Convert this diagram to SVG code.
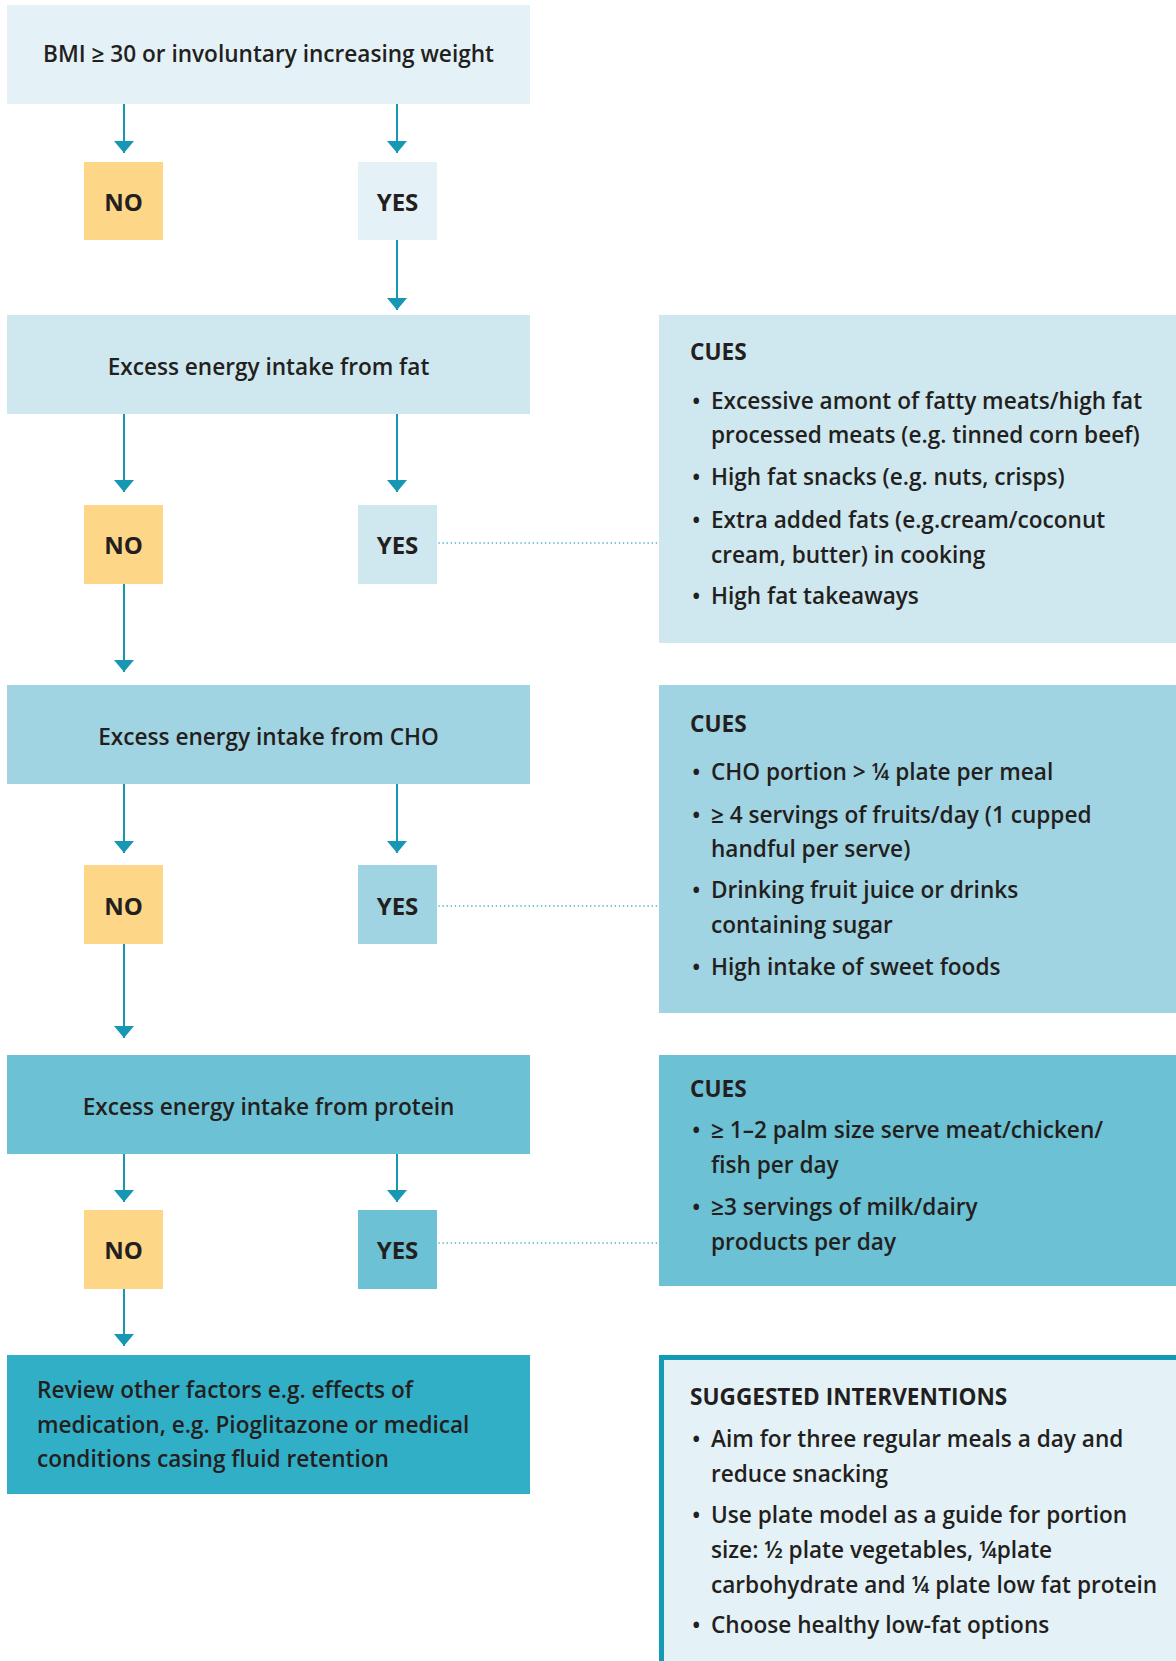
<svg xmlns="http://www.w3.org/2000/svg" width="1176" height="1661" viewBox="0 0 1176 1661">
<style>
  text { font-family: "Open Sans", "Liberation Sans", sans-serif; font-weight: 600; fill: #231f20; font-size: 22.6px; }
  .t { text-anchor: middle; }
  .yn { text-anchor: middle; font-weight: 700; font-size: 24px; }
  .h { font-weight: 700; }
  .c0 { fill: #e4f2f7; }
  .c1 { fill: #cfe8ef; }
  .c2 { fill: #a1d4e2; }
  .c3 { fill: #6cc1d4; }
  .c4 { fill: #31afc7; }
  .no { fill: #fdd688; }
  .arr { stroke: #1797b3; stroke-width: 2; fill: none; marker-end: url(#ah); }
  .dot { stroke: #3aa9c0; stroke-width: 1.6; fill: none; stroke-dasharray: 0.1 4; stroke-linecap: round; }
</style>
<defs>
  <marker id="ah" viewBox="0 0 12 20" refX="12" refY="10" markerWidth="12" markerHeight="20" markerUnits="userSpaceOnUse" orient="auto">
    <path d="M0,0 L12,10 L0,20 Z" fill="#1797b3"/>
  </marker>
</defs>
<rect width="1176" height="1661" fill="#ffffff"/>

<g id="connectors">
  <line class="arr" x1="124" y1="104" x2="124" y2="153"/>
  <line class="arr" x1="397" y1="104" x2="397" y2="153"/>
  <line class="arr" x1="397" y1="240" x2="397" y2="310"/>
  <line class="arr" x1="124" y1="414" x2="124" y2="492"/>
  <line class="arr" x1="397" y1="414" x2="397" y2="492"/>
  <line class="arr" x1="124" y1="584" x2="124" y2="672"/>
  <line class="arr" x1="124" y1="784" x2="124" y2="853"/>
  <line class="arr" x1="397" y1="784" x2="397" y2="853"/>
  <line class="arr" x1="124" y1="944" x2="124" y2="1038"/>
  <line class="arr" x1="124" y1="1154" x2="124" y2="1202"/>
  <line class="arr" x1="397" y1="1154" x2="397" y2="1202"/>
  <line class="arr" x1="124" y1="1289" x2="124" y2="1346"/>
  <line class="dot" x1="439" y1="543" x2="658" y2="543"/>
  <line class="dot" x1="439" y1="906" x2="658" y2="906"/>
  <line class="dot" x1="439" y1="1243" x2="658" y2="1243"/>
</g>

<g id="bmi">
  <rect class="c0" x="7" y="5" width="523" height="99"/>
  <text class="t" x="268.5" y="62">BMI ≥ 30 or involuntary increasing weight</text>
</g>
<g id="no1"><rect class="no" x="84" y="162" width="79" height="78"/><text class="yn" x="123.5" y="211">NO</text></g>
<g id="yes1"><rect class="c0" x="358" y="162" width="79" height="78"/><text class="yn" x="397.5" y="211">YES</text></g>

<g id="fat">
  <rect class="c1" x="7" y="315" width="523" height="99"/>
  <text class="t" x="268.5" y="375">Excess energy intake from fat</text>
</g>
<g id="no2"><rect class="no" x="84" y="505" width="79" height="79"/><text class="yn" x="123.5" y="554">NO</text></g>
<g id="yes2"><rect class="c1" x="358" y="505" width="79" height="79"/><text class="yn" x="397.5" y="554">YES</text></g>
<g id="cues1">
  <rect class="c1" x="659" y="315" width="517" height="328"/>
  <text class="h" x="690" y="360">CUES</text>
  <text x="692" y="409">•</text><text x="711" y="409">Excessive amont of fatty meats/high fat</text>
  <text x="711" y="443">processed meats (e.g. tinned corn beef)</text>
  <text x="692" y="485">•</text><text x="711" y="485">High fat snacks (e.g. nuts, crisps)</text>
  <text x="692" y="528">•</text><text x="711" y="528">Extra added fats (e.g.cream/coconut</text>
  <text x="711" y="563">cream, butter) in cooking</text>
  <text x="692" y="604">•</text><text x="711" y="604">High fat takeaways</text>
</g>

<g id="cho">
  <rect class="c2" x="7" y="685" width="523" height="99"/>
  <text class="t" x="268.5" y="745">Excess energy intake from CHO</text>
</g>
<g id="no3"><rect class="no" x="84" y="865" width="79" height="79"/><text class="yn" x="123.5" y="915">NO</text></g>
<g id="yes3"><rect class="c2" x="358" y="865" width="79" height="79"/><text class="yn" x="397.5" y="915">YES</text></g>
<g id="cues2">
  <rect class="c2" x="659" y="685" width="517" height="328"/>
  <text class="h" x="690" y="732">CUES</text>
  <text x="692" y="780">•</text><text x="711" y="780">CHO portion &gt; ¼ plate per meal</text>
  <text x="692" y="823">•</text><text x="711" y="823">≥ 4 servings of fruits/day (1 cupped</text>
  <text x="711" y="857">handful per serve)</text>
  <text x="692" y="898">•</text><text x="711" y="898">Drinking fruit juice or drinks</text>
  <text x="711" y="933">containing sugar</text>
  <text x="692" y="975">•</text><text x="711" y="975">High intake of sweet foods</text>
</g>

<g id="protein">
  <rect class="c3" x="7" y="1055" width="523" height="99"/>
  <text class="t" x="268.5" y="1115">Excess energy intake from protein</text>
</g>
<g id="no4"><rect class="no" x="84" y="1210" width="79" height="79"/><text class="yn" x="123.5" y="1259">NO</text></g>
<g id="yes4"><rect class="c3" x="358" y="1210" width="79" height="79"/><text class="yn" x="397.5" y="1259">YES</text></g>
<g id="cues3">
  <rect class="c3" x="659" y="1055" width="517" height="231"/>
  <text class="h" x="690" y="1097">CUES</text>
  <text x="692" y="1138">•</text><text x="711" y="1138">≥ 1–2 palm size serve meat/chicken/</text>
  <text x="711" y="1173">fish per day</text>
  <text x="692" y="1215">•</text><text x="711" y="1215">≥3 servings of milk/dairy</text>
  <text x="711" y="1250">products per day</text>
</g>

<g id="review">
  <rect class="c4" x="7" y="1355" width="523" height="139"/>
  <text x="37" y="1398">Review other factors e.g. effects of</text>
  <text x="37" y="1433">medication, e.g. Pioglitazone or medical</text>
  <text x="37" y="1467">conditions casing fluid retention</text>
</g>

<g id="interventions">
  <rect x="659" y="1355" width="517" height="306" fill="#139ab5"/>
  <rect class="c0" x="664" y="1360" width="512" height="301"/>
  <text class="h" x="690" y="1405">SUGGESTED INTERVENTIONS</text>
  <text x="692" y="1447">•</text><text x="711" y="1447">Aim for three regular meals a day and</text>
  <text x="711" y="1482">reduce snacking</text>
  <text x="692" y="1523">•</text><text x="711" y="1523">Use plate model as a guide for portion</text>
  <text x="711" y="1558">size: ½ plate vegetables, ¼plate</text>
  <text x="711" y="1593">carbohydrate and ¼ plate low fat protein</text>
  <text x="692" y="1633">•</text><text x="711" y="1633">Choose healthy low-fat options</text>
</g>
</svg>
